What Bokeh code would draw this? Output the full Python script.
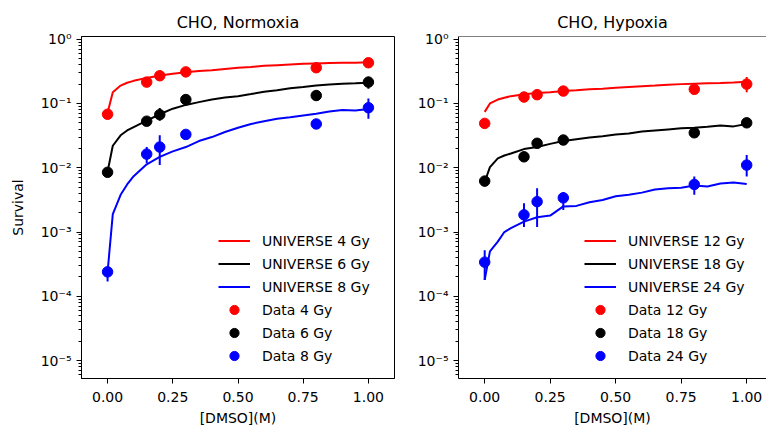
from bokeh.plotting import figure
from bokeh.models import (FixedTicker, CustomJSTickFormatter, Range1d, Legend, LegendItem,
                          Span, NumeralTickFormatter)
from bokeh.layouts import row
from bokeh.embed import file_html
from bokeh.resources import INLINE

# ---------------- data ----------------
dmso_data = [0.0, 0.15, 0.2, 0.3, 0.8, 1.0]

# Normoxia measured survival
norm_4gy = [0.068, 0.215, 0.27, 0.31, 0.36, 0.43]
norm_4gy_lo = [0.062, 0.200, 0.255, 0.295, 0.335, 0.405]
norm_4gy_hi = [0.074, 0.230, 0.285, 0.325, 0.385, 0.455]
norm_6gy = [0.0085, 0.053, 0.067, 0.115, 0.133, 0.215]
norm_6gy_lo = [0.0072, 0.049, 0.054, 0.108, 0.125, 0.170]
norm_6gy_hi = [0.0097, 0.057, 0.085, 0.122, 0.141, 0.260]
norm_8gy = [2.4e-4, 0.0163, 0.021, 0.033, 0.048, 0.086]
norm_8gy_lo = [1.7e-4, 0.0118, 0.011, 0.030, 0.045, 0.058]
norm_8gy_hi = [2.9e-4, 0.021, 0.032, 0.036, 0.051, 0.119]

# Hypoxia measured survival
hyp_12gy = [0.049, 0.126, 0.137, 0.156, 0.166, 0.20]
hyp_12gy_lo = [0.046, 0.118, 0.128, 0.147, 0.156, 0.150]
hyp_12gy_hi = [0.052, 0.134, 0.146, 0.165, 0.176, 0.258]
hyp_18gy = [0.0062, 0.0148, 0.024, 0.027, 0.035, 0.050]
hyp_18gy_lo = [0.0051, 0.0138, 0.022, 0.025, 0.033, 0.046]
hyp_18gy_hi = [0.0069, 0.0158, 0.026, 0.029, 0.037, 0.054]
hyp_24gy = [3.4e-4, 1.85e-3, 2.97e-3, 3.4e-3, 5.5e-3, 0.011]
hyp_24gy_lo = [1.8e-4, 1.2e-3, 1.2e-3, 2.2e-3, 3.8e-3, 7.3e-3]
hyp_24gy_hi = [5.2e-4, 2.8e-3, 4.8e-3, 4.2e-3, 7.3e-3, 0.0158]

# UNIVERSE model curves
dmso_model = [0.0, 0.02, 0.05, 0.075, 0.1, 0.15, 0.2, 0.25, 0.3, 0.35, 0.4, 0.45,
              0.5, 0.55, 0.6, 0.65, 0.7, 0.75, 0.8, 0.85, 0.9, 0.95, 1.0]
uni_4gy = [0.072, 0.15, 0.19, 0.21, 0.225, 0.25, 0.272, 0.29, 0.305, 0.32, 0.33, 0.345,
           0.36, 0.37, 0.385, 0.395, 0.405, 0.415, 0.42, 0.425, 0.43, 0.43, 0.438]
uni_6gy = [0.0087, 0.022, 0.032, 0.038, 0.043, 0.054, 0.068, 0.083, 0.095, 0.105, 0.115, 0.124,
           0.13, 0.14, 0.152, 0.16, 0.172, 0.18, 0.19, 0.198, 0.203, 0.206, 0.21]
uni_8gy = [2.4e-4, 1.9e-3, 3.8e-3, 5.5e-3, 7.4e-3, 0.0113, 0.0148, 0.018, 0.021, 0.026, 0.030, 0.036,
           0.042, 0.048, 0.053, 0.058, 0.061, 0.065, 0.069, 0.075, 0.079, 0.078, 0.082]
uni_12gy = [0.074, 0.10, 0.115, 0.123, 0.13, 0.139, 0.145, 0.15, 0.156, 0.16, 0.166, 0.17,
            0.175, 0.18, 0.185, 0.19, 0.196, 0.20, 0.203, 0.206, 0.208, 0.212, 0.218]
uni_18gy = [0.006, 0.0102, 0.014, 0.0155, 0.0167, 0.0195, 0.021, 0.0235, 0.026, 0.0278, 0.0295, 0.031,
            0.033, 0.034, 0.0365, 0.038, 0.0395, 0.041, 0.042, 0.0435, 0.0455, 0.044, 0.048]
uni_24gy = [1.8e-4, 5.0e-4, 7.1e-4, 1.0e-3, 1.15e-3, 1.45e-3, 1.7e-3, 1.8e-3, 2.5e-3, 2.55e-3, 2.9e-3, 3.15e-3,
            3.6e-3, 3.8e-3, 4.1e-3, 4.6e-3, 4.8e-3, 4.9e-3, 5.3e-3, 5.1e-3, 5.7e-3, 5.9e-3, 5.6e-3]

x_ticks = [0.0, 0.25, 0.5, 0.75, 1.0]
y_exponents = [-5, -4, -3, -2, -1, 0]

FONT = "DejaVu Sans"
Y_LO, Y_HI = 10 ** -5.279, 10 ** 0.042


def make_panel(title, xend, width, border_left, border_right, curves, data, labels_uni, labels_data,
               ylabel, legend_x, full_frame):
    p = figure(width=width, height=428, y_axis_type="log",
               x_range=Range1d(-0.1, xend), y_range=Range1d(Y_LO, Y_HI),
               output_backend="svg", toolbar_location=None,
               min_border_left=border_left, min_border_right=border_right,
               min_border_top=36, min_border_bottom=50, title=title)
    p.title.text_font = FONT
    p.title.text_font_size = "16px"
    p.title.text_font_style = "normal"
    p.title.align = "center"
    p.title.text_color = "black"
    p.grid.visible = False
    p.background_fill_color = "white"
    p.border_fill_color = "white"
    if full_frame:
        p.outline_line_color = "black"
        p.outline_line_alpha = 1.0
    else:
        p.outline_line_color = None
        p.add_layout(Span(location=Y_HI, dimension="width", line_color="black", line_width=1))

    colors = ["red", "black", "blue"]
    line_rs = []
    for yv, c in zip(curves, colors):
        line_rs.append(p.line(dmso_model, yv, line_color=c, line_width=2))
    dot_rs = []
    for (yv, lo, hi), c in zip(data, colors):
        p.segment(x0=dmso_data, y0=lo, x1=dmso_data, y1=hi, line_color=c, line_width=2)
        dot_rs.append(p.scatter(dmso_data, yv, marker="circle", size=10.5, fill_color=c, line_color=c))

    # axes
    for ax in (p.xaxis[0], p.yaxis[0]):
        ax.axis_line_color = "black"
        ax.major_tick_line_color = "black"
        ax.minor_tick_line_color = "black"
        ax.major_tick_in = 0
        ax.minor_tick_in = 0
        ax.major_tick_out = 5
        ax.minor_tick_out = 3
        ax.major_label_text_font = FONT
        ax.major_label_text_font_size = "14px"
        ax.major_label_text_color = "black"
        ax.axis_label_text_font = FONT
        ax.axis_label_text_font_size = "14px"
        ax.axis_label_text_font_style = "normal"
        ax.axis_label_text_color = "black"
    p.xaxis.ticker = FixedTicker(ticks=x_ticks)
    p.xaxis.formatter = NumeralTickFormatter(format="0.00")
    p.xaxis.minor_tick_line_color = None
    p.xaxis.major_label_standoff = 8
    p.xaxis.axis_label = "[DMSO](M)"
    p.xaxis.axis_label_standoff = 5

    majors = [10.0 ** e for e in y_exponents]
    minors = [k * 10.0 ** e for e in range(-6, 1) for k in range(2, 10)]
    p.yaxis.ticker = FixedTicker(ticks=majors, minor_ticks=minors)
    p.yaxis.formatter = CustomJSTickFormatter(code="""
        const sup = {"-": "\u207b", "0": "\u2070", "1": "\u00b9", "2": "\u00b2", "3": "\u00b3",
                     "4": "\u2074", "5": "\u2075", "6": "\u2076", "7": "\u2077", "8": "\u2078", "9": "\u2079"};
        const e = Math.round(Math.log10(tick));
        return "10" + String(e).split("").map(c => sup[c]).join("");
    """)
    if ylabel:
        p.yaxis.axis_label = ylabel
        p.yaxis.axis_label_standoff = 12

    items = [LegendItem(label=l, renderers=[r]) for l, r in zip(labels_uni, line_rs)]
    items += [LegendItem(label=l, renderers=[r]) for l, r in zip(labels_data, dot_rs)]
    legend = Legend(items=items, location=(legend_x, 11), margin=0, padding=8,
                    spacing=0, glyph_width=32, glyph_height=23, label_height=23,
                    label_standoff=12, label_text_font=FONT, label_text_font_size="14px",
                    label_text_color="black", background_fill_alpha=0.0,
                    border_line_color=None)
    p.add_layout(legend)
    return p


p1 = make_panel("CHO, Normoxia", 1.1, 400, 81, 6,
                [uni_4gy, uni_6gy, uni_8gy],
                [(norm_4gy, norm_4gy_lo, norm_4gy_hi), (norm_6gy, norm_6gy_lo, norm_6gy_hi),
                 (norm_8gy, norm_8gy_lo, norm_8gy_hi)],
                ["UNIVERSE 4 Gy", "UNIVERSE 6 Gy", "UNIVERSE 8 Gy"],
                ["Data 4 Gy", "Data 6 Gy", "Data 8 Gy"],
                "Survival", 137, True)
p2 = make_panel("CHO, Hypoxia", 1.0756, 366, 58, 0,
                [uni_12gy, uni_18gy, uni_24gy],
                [(hyp_12gy, hyp_12gy_lo, hyp_12gy_hi), (hyp_18gy, hyp_18gy_lo, hyp_18gy_hi),
                 (hyp_24gy, hyp_24gy_lo, hyp_24gy_hi)],
                ["UNIVERSE 12 Gy", "UNIVERSE 18 Gy", "UNIVERSE 24 Gy"],
                ["Data 12 Gy", "Data 18 Gy", "Data 24 Gy"],
                None, 126, False)

layout = row(p1, p2, spacing=0)
with open("out.html", "w", encoding="utf-8") as f:
    f.write(file_html(layout, INLINE))
